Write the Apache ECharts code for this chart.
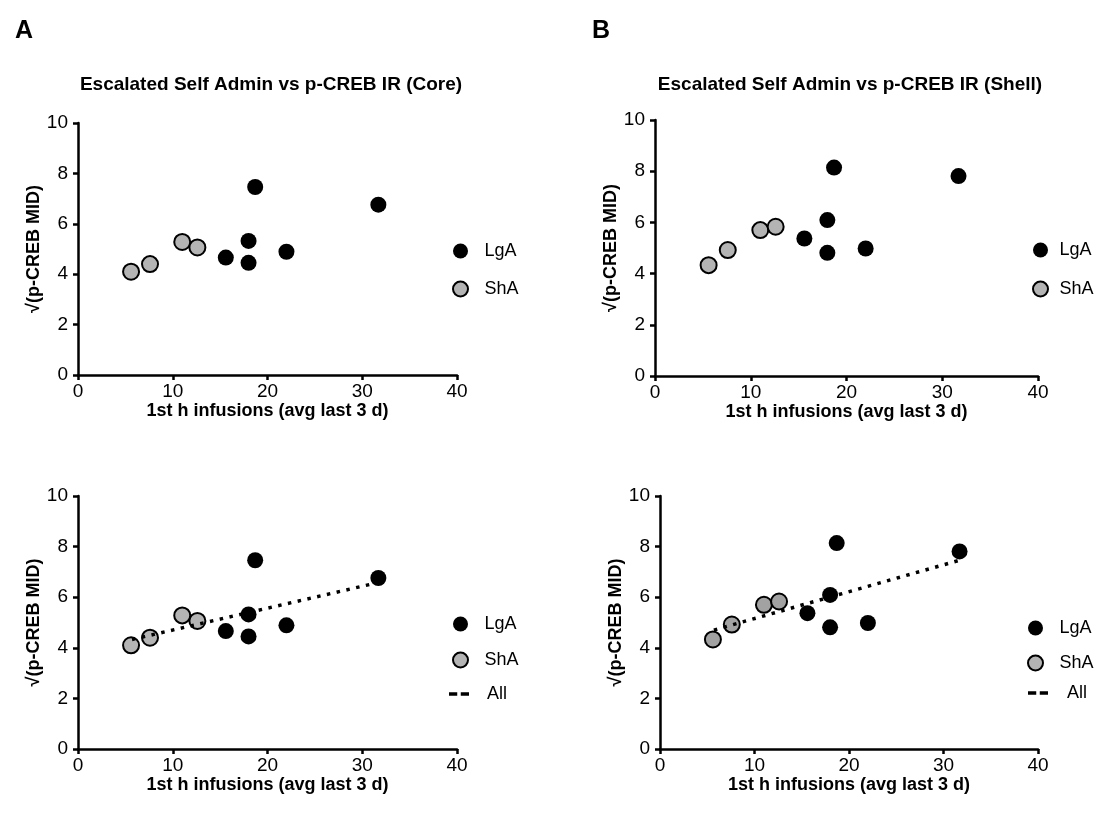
<!DOCTYPE html>
<html>
<head>
<meta charset="utf-8">
<script src="https://cdn.jsdelivr.net/npm/echarts@6/dist/echarts.min.js"></script>
<style>
html,body{margin:0;padding:0;background:#fff;}
#main{width:1098px;height:815px;}
</style>
</head>
<body>
<div id="main"></div>
<script>
// ---- data ----
const lgaX = [15.6, 18.0, 18.0, 18.7, 22.0, 31.7];
const shaX = [5.6, 7.6, 11.0, 12.6];
const coreLgaY = [4.66, 5.32, 4.45, 7.46, 4.89, 6.76];
const coreShaY = [4.10, 4.40, 5.28, 5.06];
const shellLgaY = [5.37, 6.09, 4.81, 8.14, 4.98, 7.81];
const shellShaY = [4.33, 4.92, 5.70, 5.83];
const coreFit = [[5.7, 4.33], [31.7, 6.58]];
const shellFit = [[5.7, 4.70], [31.7, 7.46]];
const xTicks = [0, 10, 20, 30, 40];
const yTicks = [0, 2, 4, 6, 8, 10];
const titles = ['Escalated Self Admin vs p-CREB IR (Core)', 'Escalated Self Admin vs p-CREB IR (Shell)'];
const xName = '1st h infusions (avg last 3 d)';
const yName = '√(p-CREB MID)';

const FONT = '"Liberation Sans", Arial, sans-serif';
const pairs = (xs, ys) => xs.map((x, i) => [x, ys[i]]);

const grids = [
  {left: 78, top: 123, width: 379, height: 252},
  {left: 655, top: 120, width: 383, height: 256},
  {left: 78, top: 496, width: 379, height: 253},
  {left: 660, top: 496, width: 378, height: 253}
];

function xAxis(i) {
  return {
    gridIndex: i, type: 'value', min: xTicks[0], max: xTicks[xTicks.length - 1], interval: 10,
    name: xName, nameLocation: 'middle', nameGap: 21,
    nameTextStyle: {color: '#000', fontSize: 18, fontWeight: 'bold', fontFamily: FONT},
    axisLine: {lineStyle: {color: '#000', width: 2.5}},
    axisTick: {length: 5, lineStyle: {color: '#000', width: 2.5}},
    axisLabel: {color: '#000', fontSize: 19, fontFamily: FONT, margin: 7},
    splitLine: {show: false}
  };
}
function yAxis(i) {
  return {
    gridIndex: i, type: 'value', min: yTicks[0], max: yTicks[yTicks.length - 1], interval: 2,
    name: yName, nameLocation: 'middle', nameGap: 34, nameRotate: 90,
    nameTextStyle: {color: '#000', fontSize: 18, fontWeight: 'bold', fontFamily: FONT},
    axisLine: {lineStyle: {color: '#000', width: 2.5}},
    axisTick: {length: 5, lineStyle: {color: '#000', width: 2.5}},
    axisLabel: {color: '#000', fontSize: 19, fontFamily: FONT, margin: 10},
    splitLine: {show: false}
  };
}

const series = [];
function addScatter(i, name, xs, ys, fill) {
  series.push({
    name: name, type: 'scatter', xAxisIndex: i, yAxisIndex: i,
    data: pairs(xs, ys), symbol: 'circle', symbolSize: 16,
    itemStyle: {color: fill, borderColor: '#000', borderWidth: name === 'ShA' ? 2 : 0, opacity: 1},
    emphasis: {disabled: true}, z: 3
  });
}
addScatter(0, 'LgA', lgaX, coreLgaY, '#000');
addScatter(0, 'ShA', shaX, coreShaY, '#b4b4b4');
addScatter(1, 'LgA', lgaX, shellLgaY, '#000');
addScatter(1, 'ShA', shaX, shellShaY, '#b4b4b4');
addScatter(2, 'LgA', lgaX, coreLgaY, '#000');
addScatter(2, 'ShA', shaX, coreShaY, '#b4b4b4');
addScatter(3, 'LgA', lgaX, shellLgaY, '#000');
addScatter(3, 'ShA', shaX, shellShaY, '#a2a2a2');
[[2, coreFit], [3, shellFit]].forEach(([i, fit]) => {
  series.push({
    name: 'All', type: 'line', xAxisIndex: i, yAxisIndex: i, data: fit,
    showSymbol: false, symbol: 'none', z: 4,
    itemStyle: {color: '#000'},
    lineStyle: {color: '#000', width: 3.5, type: [3.5, 6.5], cap: 'butt'},
    emphasis: {disabled: true}
  });
});

const legTxt = (pad) => ({color: '#000', fontSize: 18, fontFamily: FONT, padding: [0, 0, 0, pad]});
const dashIcon = 'path://M0,0h7v3h-7z M10,0h7v3h-7z';
function legend(left, top, names, pad, gap) {
  return {
    orient: 'vertical', left: left, top: top, itemWidth: 20, itemHeight: 15, itemGap: gap,
    selectedMode: false, textStyle: legTxt(pad), icon: 'circle',
    data: names
  };
}
function dashLegend(left, top, pad) {
  return {orient: 'vertical', left: left, top: top, itemWidth: 20, itemHeight: 12, selectedMode: false,
    textStyle: legTxt(pad), data: [{name: 'All', icon: dashIcon, itemStyle: {color: '#000', borderWidth: 0}}]};
}

const option = {
  animation: false,
  backgroundColor: '#fff',
  grid: grids.map(g => Object.assign({containLabel: false}, g)),
  xAxis: [0, 1, 2, 3].map(xAxis),
  yAxis: [0, 1, 2, 3].map(yAxis),
  series: series,
  legend: [
    legend(447, 237, ['LgA', 'ShA'], 9, 20),
    legend(1027, 236, ['LgA', 'ShA'], 4, 21),
    legend(447, 610, ['LgA', 'ShA'], 9, 18),
    legend(1022, 614, ['LgA', 'ShA'], 9, 17),
    dashLegend(444, 680, 13),
    dashLegend(1023, 679, 14)
  ],
  title: [
    {text: 'A', left: 10, top: 14, textStyle: {fontSize: 25, fontWeight: 'bold', color: '#000', fontFamily: FONT}},
    {text: 'B', left: 587, top: 14, textStyle: {fontSize: 25, fontWeight: 'bold', color: '#000', fontFamily: FONT}},
    {text: titles[0], left: 266, top: 70, textAlign: 'center', textStyle: {fontSize: 19, fontWeight: 'bold', color: '#000', fontFamily: FONT}},
    {text: titles[1], left: 845, top: 70, textAlign: 'center', textStyle: {fontSize: 19, fontWeight: 'bold', color: '#000', fontFamily: FONT}}
  ]
};

const chart = echarts.init(document.getElementById('main'), null, {renderer: 'canvas'});
chart.setOption(option);
</script>
</body>
</html>
